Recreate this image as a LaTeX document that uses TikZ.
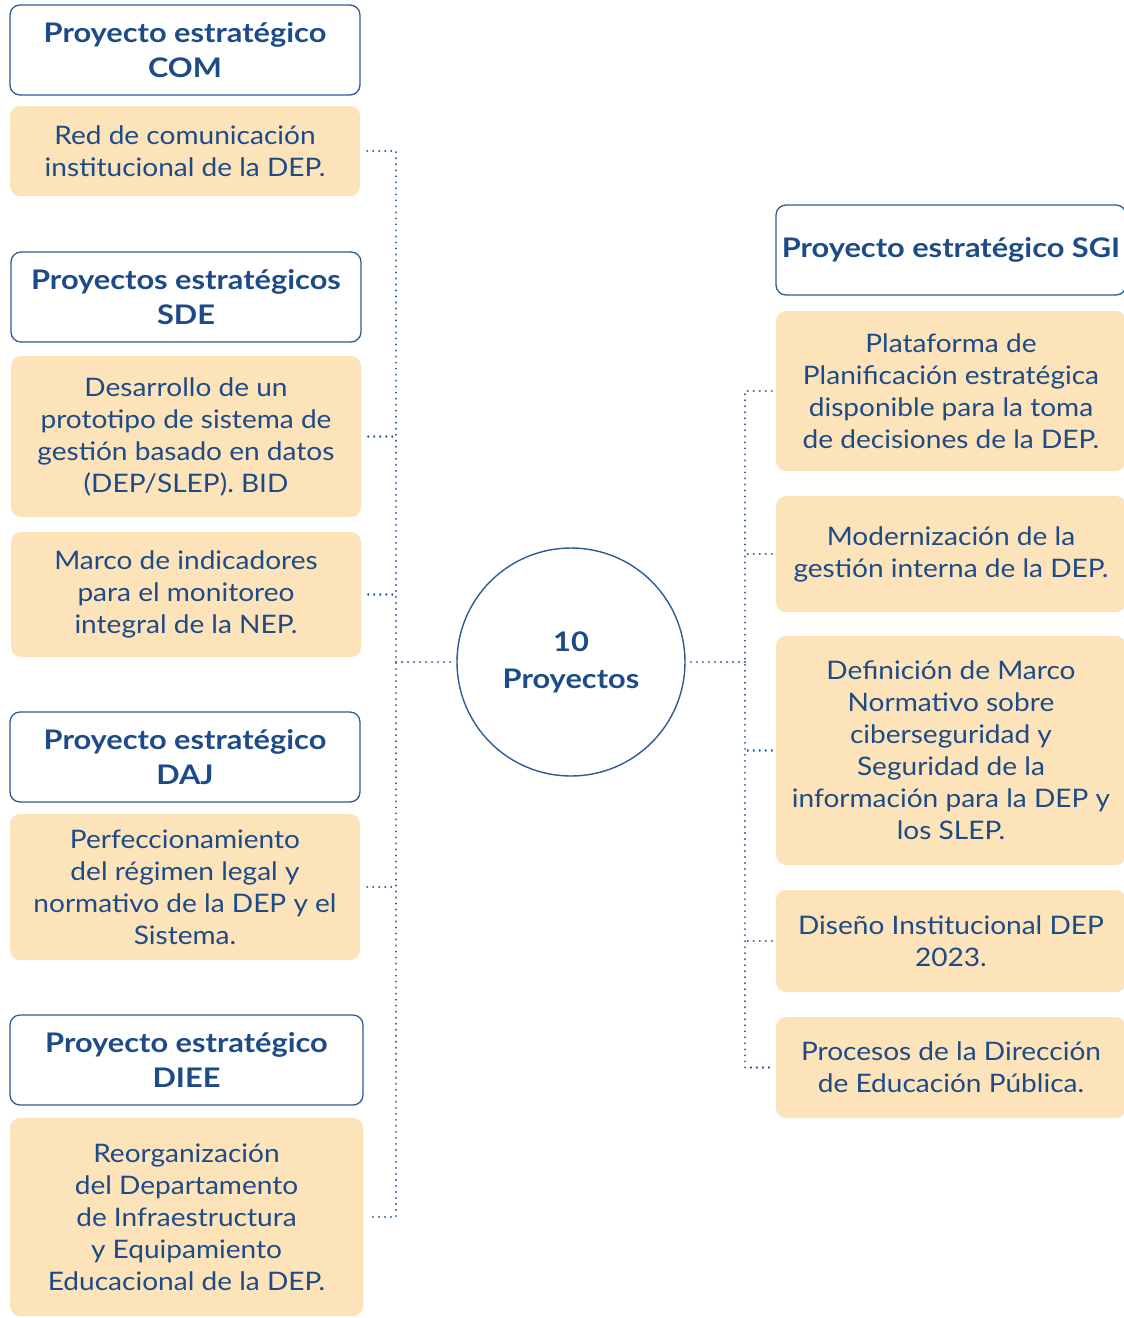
\documentclass[tikz,border=0pt]{standalone}
\usepackage{fontspec}
\setmainfont{Lato}[FakeStretch=1.1, BoldFeatures={FakeStretch=1.14}]
\definecolor{dblue}{HTML}{1D4B87}
\definecolor{lblue}{HTML}{2C5B95}
\definecolor{peach}{HTML}{FCE3B9}
\begin{document}
\begin{tikzpicture}[x=1pt,y=-1pt,
  hdr/.style={rectangle, rounded corners=10, draw=lblue, line width=1.3, fill=white,
    minimum width=350, minimum height=90, inner sep=0, align=center, text=dblue,
    font=\fontsize{27}{35}\selectfont\bfseries},
  item/.style={rectangle, rounded corners=10, fill=peach, minimum width=350,
    inner sep=0, align=center, text=dblue, font=\fontsize{25.5}{32}\selectfont},
  conn/.style={draw=lblue, line width=2.2, dash pattern=on 0.01 off 6, line cap=round},
  ]
\useasboundingbox (0,0) rectangle (1124,1318);
\clip (0,0) rectangle (1124,1318);
% left column
\node[hdr] (com) at (185,50) {Proyecto estratégico\\COM};
\node[item, minimum height=90] (red) at (185,151) {Red de comunicación\\institucional de la DEP.};
\node[hdr] (sde) at (186,297) {Proyectos estratégicos\\SDE};
\node[item, minimum height=161] (des) at (186,436.5) {Desarrollo de un\\prototipo de sistema de\\gestión basado en datos\\(DEP/SLEP). BID};
\node[item, minimum height=125] (mar) at (186,594.5) {Marco de indicadores\\para el monitoreo\\integral de la NEP.};
\node[hdr] (daj) at (185,757) {Proyecto estratégico\\DAJ};
\node[item, minimum height=146] (per) at (185,887) {Perfeccionamiento\\del régimen legal y\\normativo de la DEP y el\\Sistema.};
\node[hdr, minimum width=353] (diee) at (186.5,1060) {Proyecto estratégico\\DIEE};
\node[item, minimum width=353, minimum height=198] (reo) at (186.5,1217) {Reorganización\\del Departamento\\de Infraestructura\\y Equipamiento\\Educacional de la DEP.};
% center
\node[circle, draw=lblue, line width=1.4, minimum size=228, inner sep=0, align=center,
  text=dblue, font=\fontsize{27}{37}\selectfont\bfseries] (c) at (571,662) {10\\Proyectos};
% right column
\node[hdr] (sgi) at (951,250) {Proyecto estratégico SGI};
\node[item, minimum height=160] (pla) at (951,391) {Plataforma de\\Planificación estratégica\\disponible para la toma\\de decisiones de la DEP.};
\node[item, minimum height=116] (mod) at (951,554) {Modernización de la\\gestión interna de la DEP.};
\node[item, minimum height=229] (def) at (951,750.5) {Definición de Marco\\Normativo sobre\\ciberseguridad y\\Seguridad de la\\información para la DEP y\\los SLEP.};
\node[item, minimum height=102] (dis) at (951,941) {Diseño Institucional DEP\\2023.};
\node[item, minimum height=101] (pro) at (951,1067.5) {Procesos de la Dirección\\de Educación Pública.};
% trunks
\coordinate (tl) at (396,662);
\coordinate (tr) at (745,662);
\draw[conn, shorten <=7, shorten >=7] (red.east) -- (red.east -| tl) -- (reo.east -| tl) -- (reo.east);
\draw[conn, shorten <=7] (des.east) -- (des.east -| tl);
\draw[conn, shorten <=7] (mar.east) -- (mar.east -| tl);
\draw[conn, shorten <=7] (per.east) -- (per.east -| tl);
\draw[conn, shorten >=2] (tl) -- (c.west);
\draw[conn, shorten >=2] (tr) -- (c.east);
\draw[conn, shorten <=4, shorten >=4] (pla.west) -- (pla.west -| tr) -- (pro.west -| tr) -- (pro.west);
\draw[conn, shorten <=4] (mod.west) -- (mod.west -| tr);
\draw[conn, shorten <=4] (def.west) -- (def.west -| tr);
\draw[conn, shorten <=4] (dis.west) -- (dis.west -| tr);
\end{tikzpicture}
\end{document}
